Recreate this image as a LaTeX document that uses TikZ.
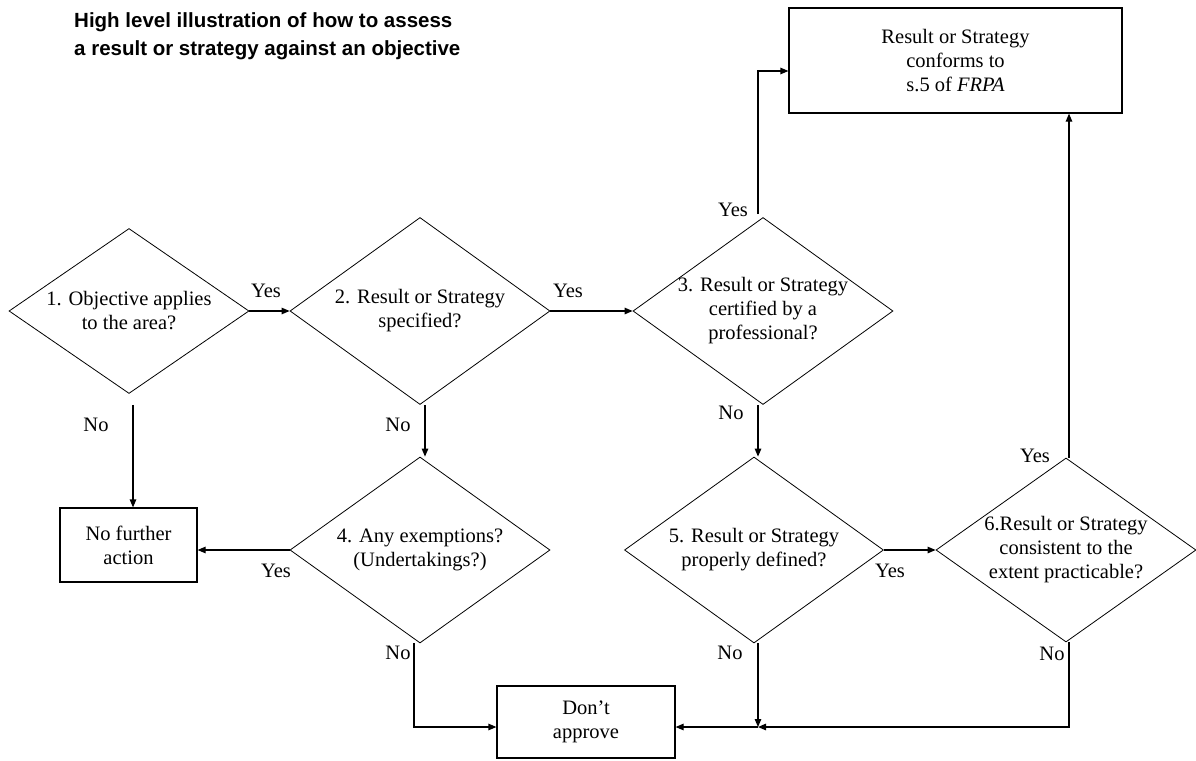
\documentclass[tikz,border=0pt]{standalone}
\usepackage{fontspec}
\setmainfont{Liberation Serif}
\newfontfamily\headfont{Liberation Sans}
\usetikzlibrary{shapes.geometric,arrows.meta}
\begin{document}
\begin{tikzpicture}[x=1pt,y=-1pt,
  txt/.style={font=\fontsize{20.5}{24}\selectfont, align=center, inner sep=0pt},
  ttl/.style={font=\headfont\bfseries\fontsize{20.5}{24}\selectfont, inner sep=0pt},
  dec/.style 2 args={diamond, draw, line width=0.8pt, inner sep=0pt,
    minimum width=#1, minimum height=#2},
  box/.style={rectangle, draw, line width=1.2pt, txt},
  flow/.style={-{Triangle[length=8pt,width=6.5pt]}, line width=1.2pt},
  lbl/.style={txt}]
\useasboundingbox (0,0) rectangle (1196,760);

% heading
\node[ttl, anchor=base west] (t1) at (74,28) {High level illustration of how to assess};
\node[ttl, anchor=base west] (t2) at (74,56) {a result or strategy against an objective};

% decisions
\node[dec={240}{165}, label={[txt]center:{1. Objective applies\\to the area?}}] (d1) at (129,311) {};
\node[dec={260}{187}, label={[txt]center:{2. Result or Strategy\\specified?}}] (d2) at (420,311) {};
\node[dec={260}{187}, label={[txt]center:{3. Result or Strategy\\certified by a\\professional?}}] (d3) at (763,311) {};
\node[dec={260}{186}, label={[txt]center:{4. Any exemptions?\\(Undertakings?)}}] (d4) at (420,550) {};
\node[dec={259}{186}, label={[txt]center:{5. Result or Strategy\\properly defined?}}] (d5) at (754,550) {};
\node[dec={260}{184}, label={[txt]center:{6.Result or Strategy\\consistent to the\\extent practicable?}}] (d6) at (1066,550) {};

% outcomes
\node[box, minimum width=333, minimum height=105] (res) at (955.5,60.5)
  {Result or Strategy\\conforms to\\s.5 of \textit{FRPA}};
\node[box, minimum width=137, minimum height=74] (nfa) at (128.5,545) {No further\\action};
\node[box, minimum width=178, minimum height=72] (dont) at (586,722) {Don’t\\approve};

% connectors
\draw[flow] ([xshift=4pt,yshift=-11pt]d1.south) -- ([xshift=4pt]d1.south |- nfa.north);
\draw[flow] (d1.east) -- (d2.west);
\draw[flow] (d2.east) -- (d3.west);
\draw[flow] ([xshift=5pt]d2.south) -- ([xshift=5pt]d2.south |- d4.north);
\draw[flow] ([xshift=-5pt,yshift=3pt]d3.north) |- ([yshift=-10.5pt]res.west);
\draw[flow] ([xshift=-5pt]d3.south) -- ([xshift=-5pt]d3.south |- d5.north);
\draw[flow] (d4.west) -- (d4.west -| nfa.east);
\draw[flow] ([xshift=-6pt]d4.south) |- ([yshift=-5pt]dont.west);
\draw[flow] (d5.east) -- (d6.west);
\draw[flow] ([xshift=3pt]d6.north) -- ([xshift=3pt]d6.north |- res.south);
\coordinate (j) at (758,727);
\draw[flow] ([xshift=4pt]d5.south) -- (j);
\draw[flow] ([xshift=3pt]d6.south) |- (j);
\draw[flow] (j) -- (j -| dont.east);

% branch labels
\node[lbl] (y1) at (266,291) {Yes};
\node[lbl] (y2) at (568,291) {Yes};
\node[lbl] (y3) at (733,210) {Yes};
\node[lbl] (y4) at (276,571) {Yes};
\node[lbl] (y5) at (890,571) {Yes};
\node[lbl] (y6) at (1035,456) {Yes};
\node[lbl] (n1) at (96,425) {No};
\node[lbl] (n2) at (398,425) {No};
\node[lbl] (n3) at (731,413) {No};
\node[lbl] (n4) at (398,653) {No};
\node[lbl] (n5) at (730,653) {No};
\node[lbl] (n6) at (1052,654) {No};
\end{tikzpicture}
\end{document}
